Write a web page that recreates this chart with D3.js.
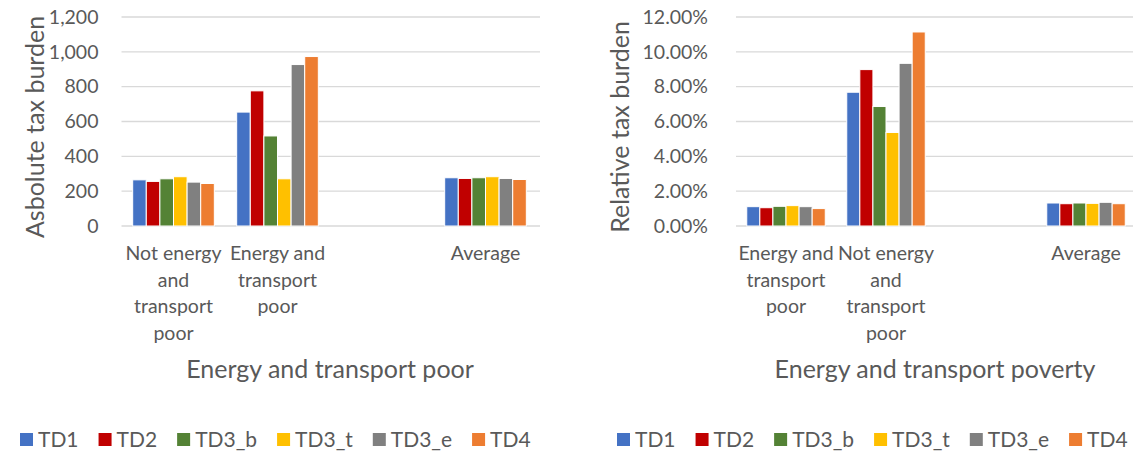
<!DOCTYPE html>
<html>
<head>
<meta charset="utf-8">
<script src="https://cdn.jsdelivr.net/npm/d3@7"></script>
<style>
  html, body { margin: 0; padding: 0; background: #ffffff; }
  svg { display: block; }
  text { font-family: Lato, "Open Sans", sans-serif; fill: #595959; }
</style>
</head>
<body>
<svg id="chart" width="1133" height="455"></svg>
<script>
// ---------- data ----------
const seriesNames = ["TD1", "TD2", "TD3_b", "TD3_t", "TD3_e", "TD4"];
const seriesColors = ["#4472C4", "#C00000", "#548235", "#FFC000", "#808080", "#ED7D31"];

// Left chart: absolute tax burden
const absCategories = ["Not energy and transport poor", "Energy and transport poor", "", "Average"];
const absTD1  = [265, 654, null, 277];
const absTD2  = [256, 776, null, 273];
const absTD3b = [271, 517, null, 277];
const absTD3t = [283, 271, null, 283];
const absTD3e = [252, 927, null, 273];
const absTD4  = [244, 973, null, 267];
const absTicks = [0, 200, 400, 600, 800, 1000, 1200];

// Right chart: relative tax burden
const relCategories = ["Energy and transport poor", "Not energy and transport poor", "", "Average"];
const relTD1  = [0.0111, 0.0768, null, 0.0132];
const relTD2  = [0.0105, 0.0898, null, 0.0128];
const relTD3b = [0.0113, 0.0686, null, 0.0132];
const relTD3t = [0.0117, 0.0537, null, 0.0130];
const relTD3e = [0.0111, 0.0934, null, 0.0136];
const relTD4  = [0.0100, 0.1114, null, 0.0128];
const relTicks = [0, 0.02, 0.04, 0.06, 0.08, 0.10, 0.12];

const svg = d3.select("#chart");

function drawChart(cfg) {
  const g = svg.append("g");
  const x = d3.scaleBand().domain(d3.range(cfg.categories.length)).range([cfg.x0, cfg.x1]).padding(0);
  const groupW = x.bandwidth() * cfg.groupFrac;
  const xs = d3.scaleBand().domain(cfg.names).range([0, groupW]).padding(0);
  const y = d3.scaleLinear().domain(cfg.domain).range([cfg.yBottom, cfg.yTop]);

  // gridlines
  g.append("g").selectAll("line").data(cfg.ticks).join("line")
    .attr("x1", cfg.x0).attr("x2", cfg.gridEnd)
    .attr("y1", d => y(d)).attr("y2", d => y(d))
    .attr("stroke", "#D9D9D9").attr("stroke-width", 1.3);

  // y axis labels
  const yAxis = d3.axisLeft(y).tickValues(cfg.ticks).tickFormat(cfg.fmt).tickSize(0).tickPadding(cfg.tickPad);
  const ya = g.append("g").attr("transform", `translate(${cfg.x0},0)`).call(yAxis);
  ya.select(".domain").remove();
  ya.selectAll("text").style("font-size", cfg.tickFont + "px").style("font-family", "Lato, sans-serif").attr("fill", "#595959");

  // bars
  cfg.series.forEach((vals, si) => {
    const name = cfg.names[si];
    g.append("g").selectAll("rect")
      .data(vals.map((v, i) => ({ v, i })).filter(d => d.v != null))
      .join("rect")
      .attr("x", d => x(d.i) + (x.bandwidth() - groupW) / 2 + xs(name))
      .attr("width", xs.bandwidth())
      .attr("y", d => y(d.v))
      .attr("height", d => y(0) - y(d.v))
      .attr("fill", cfg.colors[si])
      .attr("stroke", "#ffffff").attr("stroke-width", 1);
  });

  // category labels (wrapped)
  cfg.categories.forEach((cat, i) => {
    if (!cat) return;
    const cx = x(i) + x.bandwidth() / 2;
    const words = cat.split(" ");
    const t = g.append("text").attr("text-anchor", "middle").style("font-size", cfg.catFont + "px");
    let lines = [];
    let cur = "";
    const probe = g.append("text").style("font-size", cfg.catFont + "px");
    words.forEach(w => {
      const test = cur ? cur + " " + w : w;
      probe.text(test);
      if (probe.node().getComputedTextLength() > cfg.wrapWidth && cur) {
        lines.push(cur);
        cur = w;
      } else cur = test;
    });
    lines.push(cur);
    probe.remove();
    lines.forEach((ln, li) => {
      t.append("tspan").attr("x", cx).attr("y", cfg.catY + li * cfg.catLine).text(ln);
    });
  });

  // axis titles
  g.append("text").attr("text-anchor", "middle")
    .attr("transform", `translate(${cfg.yTitleX},${cfg.yTitleY}) rotate(-90)`)
    .attr("dy", "0.35em")
    .style("font-size", cfg.titleFont + "px").text(cfg.yTitle);
  g.append("text").attr("text-anchor", "middle")
    .attr("x", cfg.xTitleX).attr("y", cfg.xTitleY)
    .style("font-size", cfg.titleFont + "px").text(cfg.xTitle);

  // legend
  const lg = g.append("g");
  let lx = cfg.legendX;
  const sq = 13;
  cfg.names.forEach((n, i) => {
    lg.append("rect").attr("x", lx).attr("y", cfg.legendY - sq / 2).attr("width", sq).attr("height", sq).attr("fill", cfg.colors[i]);
    const tt = lg.append("text").attr("x", lx + sq + 5).attr("y", cfg.legendY).attr("dy", "0.35em")
      .style("font-size", cfg.legendFont + "px").text(n);
    lx += sq + 5 + tt.node().getComputedTextLength() + cfg.legendGap;
  });
}

const common = {
  names: seriesNames, colors: seriesColors,
  yTop: 17, yBottom: 226, tickFont: 19.5, catFont: 19.5, titleFont: 25, legendFont: 21,
  catY: 260, catLine: 26.6, xTitleY: 378, legendY: 439.5, legendGap: 20, groupFrac: 0.785, tickPad: 23
};

drawChart(Object.assign({}, common, {
  categories: absCategories,
  series: [absTD1, absTD2, absTD3b, absTD3t, absTD3e, absTD4],
  domain: [0, 1200], ticks: absTicks, fmt: d3.format(","),
  x0: 121.5, x1: 537.5, gridEnd: 540, wrapWidth: 100,
  yTitle: "Asbolute tax burden", yTitleX: 35, yTitleY: 127,
  xTitle: "Energy and transport poor", xTitleX: 330,
  legendX: 20
}));

drawChart(Object.assign({}, common, {
  categories: relCategories,
  series: [relTD1, relTD2, relTD3b, relTD3t, relTD3e, relTD4],
  domain: [0, 0.12], ticks: relTicks, fmt: d3.format(".2%"),
  x0: 736, x1: 1136, gridEnd: 1140, wrapWidth: 98, tickPad: 28,
  yTitle: "Relative tax burden", yTitleX: 620, yTitleY: 127,
  xTitle: "Energy and transport poverty", xTitleX: 935,
  legendX: 617
}));
</script>
</body>
</html>
